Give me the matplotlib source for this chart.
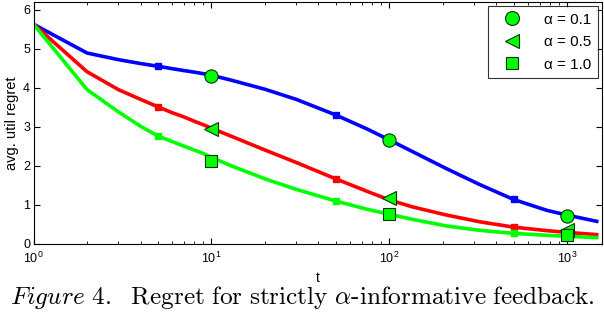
import matplotlib
matplotlib.use("Agg")
import matplotlib.pyplot as plt
from matplotlib.lines import Line2D

plt.rcParams['font.family'] = ['Liberation Sans', 'DejaVu Sans']
plt.rcParams['mathtext.fontset'] = 'custom'
plt.rcParams['mathtext.rm'] = 'Liberation Sans'
plt.rcParams['mathtext.it'] = 'Liberation Sans:italic'

t = [1, 2, 3, 4, 5, 6, 7, 8, 9, 10, 13, 20, 30, 50, 75, 100, 135, 210, 320, 500, 770, 1000, 1180, 1500]
blue = [5.63, 4.89, 4.72, 4.62, 4.55, 4.49, 4.44, 4.40, 4.36, 4.32, 4.19, 3.96, 3.70, 3.30, 2.94,
        2.66, 2.36, 1.92, 1.52, 1.13, 0.85, 0.73, 0.66, 0.56]
red = [5.63, 4.41, 3.95, 3.70, 3.51, 3.36, 3.25, 3.14, 3.05, 2.96, 2.75, 2.40, 2.08, 1.66, 1.34,
       1.12, 0.94, 0.73, 0.56, 0.42, 0.33, 0.285, 0.26, 0.225]
green = [5.63, 3.95, 3.38, 3.01, 2.76, 2.62, 2.50, 2.40, 2.31, 2.21, 1.99, 1.66, 1.39, 1.09, 0.88,
         0.75, 0.62, 0.45, 0.34, 0.26, 0.21, 0.185, 0.17, 0.15]

small_t = [5, 50, 500]
big_t = [10, 100, 1000]
circ_vals = [4.29, 2.65, 0.71]
tri_vals = [2.93, 1.16, 0.35]
sq_vals = [2.13, 0.76, 0.22]

legend_labels = ['α = 0.1', 'α = 0.5', 'α = 1.0']

MFC = '#00ff00'
MEC = '#003300'

fig = plt.figure(figsize=(6.04, 3.18), dpi=100)
ax = fig.add_axes([33.5/604, 1 - 243.5/318, (602 - 33.5)/604, (243.5 - 2)/318])

for vals, col in [(blue, '#0000ff'), (red, '#ff0000'), (green, '#00ff00')]:
    ax.plot(t, vals, color=col, lw=2.6, solid_capstyle='butt')
    sv = [vals[t.index(s)] for s in small_t]
    ax.plot(small_t, sv, ls='none', marker='s', ms=4, color=col)

ax.plot(big_t, circ_vals, ls='none', marker='o', ms=9.5, mfc=MFC, mec=MEC, mew=0.8)
ax.plot(big_t, tri_vals, ls='none', marker='<', ms=9.5, mfc=MFC, mec=MEC, mew=0.8)
ax.plot(big_t, sq_vals, ls='none', marker='s', ms=8, mfc=MFC, mec=MEC, mew=0.8)

ax.set_xscale('log')
ax.set_xlim(1, 1570)
ax.set_ylim(0, 6.2)
ax.set_yticks([0, 1, 2, 3, 4, 5, 6])
ax.set_xticks([1, 10, 100, 1000])
ax.set_xticklabels([r'$10^0$', r'$10^1$', r'$10^2$', r'$10^3$'])
ax.tick_params(which='both', direction='in', top=True, right=True, labelsize=9)
ax.tick_params(which='major', length=4)
ax.tick_params(which='minor', length=2.5)
ax.tick_params(axis='y', pad=2.5)
ax.tick_params(axis='x', pad=5)
for s in ax.spines.values():
    s.set_linewidth(0.8)

ax.set_xlabel('t', fontsize=10, labelpad=4)
ax.set_ylabel('avg. util regret', fontsize=10.5, labelpad=3)

handles = [
    Line2D([], [], ls='none', marker='o', ms=10, mfc=MFC, mec=MEC, mew=0.8),
    Line2D([], [], ls='none', marker='<', ms=10, mfc=MFC, mec=MEC, mew=0.8),
    Line2D([], [], ls='none', marker='s', ms=8, mfc=MFC, mec=MEC, mew=0.8),
]
leg = ax.legend(handles, legend_labels, loc='upper right', fontsize=11, frameon=True,
                fancybox=False, edgecolor='black', borderaxespad=0.25, handletextpad=1.0,
                labelspacing=0.55, borderpad=0.45, handlelength=2.2)
leg.get_frame().set_linewidth(0.8)

fig.text(0.5, 1 - 304/318,
         r'$\mathit{Figure\ 4.}\ \ \mathrm{Regret\ for\ strictly\ }\alpha\mathrm{\text{-}informative\ feedback.}$',
         ha='center', va='baseline', fontsize=18.2, math_fontfamily='cm')

fig.savefig('out.png', dpi=100)
